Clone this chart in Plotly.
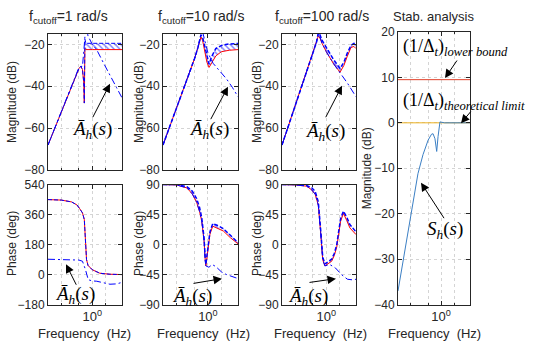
import plotly.graph_objects as go

# ---------------- data (frequency in Hz, magnitude in dB, phase in deg) ----------------
# Panel 1 : f_cutoff = 1 rad/s
p1_mag_f = [0.1, 0.2, 0.3, 0.4, 0.5, 0.55, 0.6, 0.64, 0.66, 0.68, 0.72, 1.0, 2.0, 4.68]
p1_mag_red = [-68, -52, -43, -36, -31.5, -30.5, -32, -38, -48, -22, -22.5, -22.5, -22.5, -22.5]
p1_mag_blue = [-68, -52, -43, -36, -31.5, -30.5, -32, -38, -48, -17.5, -19.5, -19.5, -19.5, -19.5]
p1_mag_ah_f = [0.1, 0.2, 0.3, 0.4, 0.5, 0.55, 0.6, 0.65, 0.7, 0.75, 0.8, 1.0, 1.26, 1.8, 2.5, 3.5, 4.68]
p1_mag_ah = [-68, -52, -43, -36, -31, -30.5, -30.5, -22, -13, -13, -16, -20, -22.6, -29, -35, -40.5, -45.5]

p1_ph_f = [0.1, 0.2, 0.34, 0.45, 0.52, 0.6, 0.66, 0.7, 0.74, 0.8, 0.9, 1.0, 1.48, 2.5, 4.68]
p1_ph_red = [450, 447, 436, 418, 395, 370, 330, 200, 90, 55, 38, 29, 8, 2, 0]
p1_ph_ah_f = [0.1, 0.3, 0.5, 0.6, 0.7, 0.81, 1.0, 1.26, 1.8, 2.5, 3.5, 4.68]
p1_ph_ah = [92, 91, 87, 80, 30, -31, -38, -40, -50, -58, -56, -47]

# Panel 2 : f_cutoff = 10 rad/s
p2_mag_f = [0.1, 0.2, 0.3, 0.4, 0.5, 0.6, 0.66, 0.7, 0.76, 0.85, 0.95, 1.06, 1.2, 1.5, 2.0, 3.0, 4.68]
p2_mag_red = [-68, -50.5, -40, -32.5, -27, -21.5, -18, -16.5, -18, -23, -28.5, -31, -29, -25.5, -23.5, -22.8, -22.5]
p2_mag_blue = [-68, -50.5, -40, -32.5, -27, -21.5, -18, -15.5, -16.5, -21, -26.5, -29.5, -26, -22, -20.5, -19.8, -19.6]
p2_mag_ah_f = [0.1, 0.2, 0.3, 0.4, 0.5, 0.6, 0.66, 0.7, 0.76, 0.85, 1.0, 1.3, 1.57, 2.0, 2.6, 3.5, 4.68]
p2_mag_ah = [-68, -50.5, -40, -32.5, -27, -21.5, -18, -15, -14, -18, -24, -29, -31, -33.5, -36.5, -40.5, -45]

p2_ph_f = [0.1, 0.2, 0.34, 0.45, 0.56, 0.65, 0.73, 0.82, 0.87, 0.9, 0.95, 1.02, 1.11, 1.28, 1.6, 2.2, 3.2, 4.68]
p2_ph_red = [90, 89.5, 85, 76, 63.6, 50, 34.8, 6, -22.8, -32, -20, 0, 15.6, 27.6, 25, 20.4, 10, 1.2]
p2_ph_blue = [90, 90, 87, 80, 69, 56, 40, 10, -20, -30, -17, 3, 19, 31.5, 29, 24, 13, 3]
p2_ph_ah_f = [0.1, 0.2, 0.34, 0.45, 0.56, 0.65, 0.73, 0.82, 0.87, 0.9, 1.05, 1.25, 1.5, 2.0, 2.6, 3.5, 4.68]
p2_ph_ah = [90, 89.5, 85, 76, 63.6, 50, 34.8, 6, -22.8, -32, -34, -30, -33, -41, -45, -48, -51]

# Panel 3 : f_cutoff = 100 rad/s
p3_mag_f = [0.1, 0.2, 0.3, 0.4, 0.5, 0.6, 0.66, 0.72, 0.8, 1.0, 1.43, 2.04, 2.5, 2.93, 3.6, 4.2, 4.68]
p3_mag_red = [-68, -49, -38, -30.5, -24.5, -19, -16, -17, -19.5, -23.5, -29, -33.3, -30, -26, -21.5, -21, -22]
p3_mag_blue = [-68, -49, -38, -30.5, -24.5, -19, -14.5, -15.5, -18, -21.5, -27, -31.5, -28.5, -24.5, -20.5, -19.5, -20]
p3_mag_ah_f = [0.1, 0.2, 0.3, 0.4, 0.5, 0.6, 0.66, 0.72, 0.8, 1.0, 1.43, 2.04, 3.0, 4.68]
p3_mag_ah = [-68, -49, -38, -30.5, -24.5, -19, -15, -16.5, -19.5, -23.5, -29, -33.3, -38.5, -45]

p3_ph_f = [0.1, 0.2, 0.36, 0.47, 0.56, 0.66, 0.75, 0.83, 0.93, 1.1, 1.32, 1.52, 1.72, 2.1, 2.43, 2.9, 3.4, 4.68]
p3_ph_red = [90, 89.5, 87.6, 82, 75.6, 59, 15.6, -22.8, -32, -29, -25, -16, -3.6, 34.8, 46.8, 36, 25, 15]
p3_ph_blue = [90, 90, 88.5, 85, 80, 64, 20, -19, -29, -26, -22, -13, 0, 39, 50, 41, 30, 19]
p3_ph_ah_f = [0.1, 0.2, 0.36, 0.47, 0.56, 0.66, 0.75, 0.83, 0.93, 1.2, 1.6, 2.2, 3.0, 4.0, 4.68]
p3_ph_ah = [90, 89.5, 87.6, 82, 75.6, 59, 15.6, -22.8, -32, -30, -35, -45, -52, -53, -52]

# Panel 4 : stability analysis
s_f = [0.1, 0.2, 0.29, 0.38, 0.5, 0.6, 0.65, 0.72, 0.79, 0.85, 0.94, 1.2, 4.68]
s_mag = [-37, -20.5, -11.2, -7, -3.8, -2.5, -2.4, -3.5, -6.3, -3, 0.2, 0, 0]
bound_f = [0.1, 4.68]
lower_bound = [9.5, 9.5]
theoretical_limit = [0, 0]

titles = ["f<sub>cutoff</sub>=1 rad/s", "f<sub>cutoff</sub>=10 rad/s", "f<sub>cutoff</sub>=100 rad/s", "Stab. analysis"]
mag_ticks = [-80, -60, -40, -20]
ph1_ticks = [-180, 0, 180, 360, 540]
ph23_ticks = [-90, -45, 0, 45, 90]
stab_ticks = [-40, -30, -20, -10, 0, 10, 20]

# ---------------- styling ----------------
W, H = 550, 349
FONT = "Arial, Liberation Sans, sans-serif"
MATH = "Liberation Serif, DejaVu Serif, serif"
AX = "#262626"
GRID = "#d4d4d4"
RED = "#ff0000"
BLUE = "#0000ff"
DASH = "4px,2px"
DASHDOT = "7px,3px,2px,3px"


def px(x):
    return x / W


def py(y):
    return 1 - y / H


fig = go.Figure()

xdom = {1: (48, 122), 2: (48, 122), 3: (163, 238), 4: (163, 238), 5: (282, 356), 6: (282, 356), 7: (398, 470)}
ydom = {1: (28, 170), 2: (185, 310), 3: (28, 170), 4: (185, 310), 5: (28, 170), 6: (185, 310), 7: (26, 310)}
yr = {1: [-80, -15], 2: [-180, 540], 3: [-80, -15], 4: [-90, 90], 5: [-80, -15], 6: [-90, 90], 7: [-40, 20]}
yt = {1: mag_ticks, 2: ph1_ticks, 3: mag_ticks, 4: ph23_ticks, 5: mag_ticks, 6: ph23_ticks, 7: stab_ticks}
show_x = {1: False, 2: True, 3: False, 4: True, 5: False, 6: True, 7: True}

for i in range(1, 8):
    sx = "" if i == 1 else str(i)
    x0, x1 = xdom[i]
    y0, y1 = ydom[i]
    fig.layout["xaxis" + sx] = dict(
        type="log", range=[-1, 0.67], domain=[px(x0), px(x1)], anchor="y" + sx,
        tickvals=[1], ticktext=["10<sup>0</sup>"], showticklabels=show_x[i],
        ticks="inside", ticklen=4, tickcolor=AX, showline=True, linecolor=AX, linewidth=1,
        mirror="ticks", showgrid=True, gridcolor=GRID, griddash="dot", zeroline=False,
        tickfont=dict(family=FONT, size=13, color=AX),
        minor=dict(tickvals=[0.2, 0.5, 2], ticks="inside", ticklen=2, tickcolor=AX,
                   showgrid=True, gridcolor=GRID, griddash="dot"),
    )
    fig.layout["yaxis" + sx] = dict(
        range=yr[i], domain=[py(y1), py(y0)], anchor="x" + sx, tickvals=yt[i],
        ticks="inside", ticklen=4, tickcolor=AX, showline=True, linecolor=AX, linewidth=1,
        mirror="ticks", showgrid=True, gridcolor=GRID, griddash="dot", zeroline=False,
        tickfont=dict(family=FONT, size=12, color=AX),
    )


def line(x, y, i, color, dash="solid", width=1):
    sx = "" if i == 1 else str(i)
    fig.add_trace(go.Scatter(x=x, y=y, mode="lines", xaxis="x" + sx, yaxis="y" + sx,
                             line=dict(color=color, dash=dash, width=width), showlegend=False,
                             hoverinfo="skip"))


def band(x, upper, lower, i, start):
    sx = "" if i == 1 else str(i)
    xs = list(x[start:]) + list(x[start:])[::-1]
    ys = list(upper[start:]) + list(lower[start:])[::-1]
    fig.add_trace(go.Scatter(x=xs, y=ys, mode="lines", fill="toself", xaxis="x" + sx, yaxis="y" + sx,
                             line=dict(width=0), fillcolor="rgba(255,255,255,0)",
                             fillpattern=dict(shape="\\", fgcolor=BLUE, bgcolor="rgba(255,255,255,0)",
                                              size=4, solidity=0.35),
                             showlegend=False, hoverinfo="skip"))


# panel 1
band(p1_mag_f, p1_mag_blue, p1_mag_red, 1, 9)
line(p1_mag_f, p1_mag_red, 1, RED)
line(p1_mag_f, p1_mag_blue, 1, BLUE, DASH)
line(p1_mag_ah_f, p1_mag_ah, 1, BLUE, DASHDOT)
line(p1_ph_f, p1_ph_red, 2, RED)
line(p1_ph_f, p1_ph_red, 2, BLUE, DASH)
line(p1_ph_ah_f, p1_ph_ah, 2, BLUE, DASHDOT)

# panel 2
band(p2_mag_f, p2_mag_blue, p2_mag_red, 3, 6)
line(p2_mag_f, p2_mag_red, 3, RED)
line(p2_mag_f, p2_mag_blue, 3, BLUE, DASH, 1.5)
line(p2_mag_ah_f, p2_mag_ah, 3, BLUE, DASHDOT)
band(p2_ph_f, p2_ph_blue, p2_ph_red, 4, 2)
line(p2_ph_f, p2_ph_red, 4, RED)
line(p2_ph_f, p2_ph_blue, 4, BLUE, DASH, 1.5)
line(p2_ph_ah_f, p2_ph_ah, 4, BLUE, DASHDOT)

# panel 3
band(p3_mag_f, p3_mag_blue, p3_mag_red, 5, 6)
line(p3_mag_f, p3_mag_red, 5, RED)
line(p3_mag_f, p3_mag_blue, 5, BLUE, DASH, 1.5)
line(p3_mag_ah_f, p3_mag_ah, 5, BLUE, DASHDOT)
band(p3_ph_f, p3_ph_blue, p3_ph_red, 6, 2)
line(p3_ph_f, p3_ph_red, 6, RED)
line(p3_ph_f, p3_ph_blue, 6, BLUE, DASH, 1.5)
line(p3_ph_ah_f, p3_ph_ah, 6, BLUE, DASHDOT)

# panel 4
line(bound_f, lower_bound, 7, "#e0402a")
line(bound_f, theoretical_limit, 7, "#edb120")
line(s_f, s_mag, 7, "#3b7fc4")

anns = []


def text(x, y, t, size=12, family=FONT, angle=0, xanchor="center"):
    anns.append(dict(x=px(x), y=py(y), xref="paper", yref="paper", text=t, showarrow=False,
                     textangle=angle, xanchor=xanchor, yanchor="middle",
                     font=dict(family=family, size=size, color="#000000" if family == MATH else AX)))


def arrow(hx, hy, tx, ty):
    anns.append(dict(x=px(hx), y=py(hy), xref="paper", yref="paper", ax=tx - hx, ay=ty - hy,
                     text="", showarrow=True, arrowhead=2, arrowsize=1.7, arrowwidth=1,
                     arrowcolor="black"))


# titles
text(68, 10, titles[0], 14)
text(201, 10, titles[1], 14)
text(322, 10, titles[2], 14)
text(433, 10, titles[3], 13)

# axis labels
for xl in (12, 139, 257):
    text(xl, 99, "Magnitude (dB)", 12, angle=-90)
    text(xl, 247, "Phase (deg)", 12, angle=-90)
text(367, 168, "Magnitude (dB)", 12, angle=-90)
for xc in (84, 203, 320, 434):
    text(xc, 340, "Frequency\u00a0\u00a0(Hz)", 13)

AH = "<i>Ā</i><sub><i>h</i></sub>(<i>s</i>)"
text(92, 128, AH, 19, MATH)
text(209, 128, AH, 19, MATH)
text(325, 130, AH, 19, MATH)
text(75, 300, AH, 19, MATH)
text(192, 302, AH, 19, MATH)
text(308, 302, AH, 19, MATH)
arrow(110, 80, 92, 115)
arrow(228, 83, 210, 117)
arrow(342, 82, 325, 115)
arrow(66, 268, 77, 290)
arrow(222, 283, 192, 288)
arrow(336, 283, 308, 287)

text(401, 42, "(1/Δ<sub><i>t</i></sub>)<sub><i>lower bound</i></sub>", 18, MATH, xanchor="left")
text(401, 98, "(1/Δ<sub><i>t</i></sub>)<sub><i>theoretical limit</i></sub>", 18, MATH, xanchor="left")
text(445, 232, "<i>S</i><sub><i>h</i></sub>(<i>s</i>)", 19, MATH)
arrow(445, 74, 458, 55)
arrow(461, 121, 472, 108)
arrow(421, 183, 445, 220)

fig.update_layout(width=W, height=H, margin=dict(l=0, r=0, t=0, b=0),
                  paper_bgcolor="white", plot_bgcolor="white", annotations=anns,
                  showlegend=False)

fig.write_html("out.html")
